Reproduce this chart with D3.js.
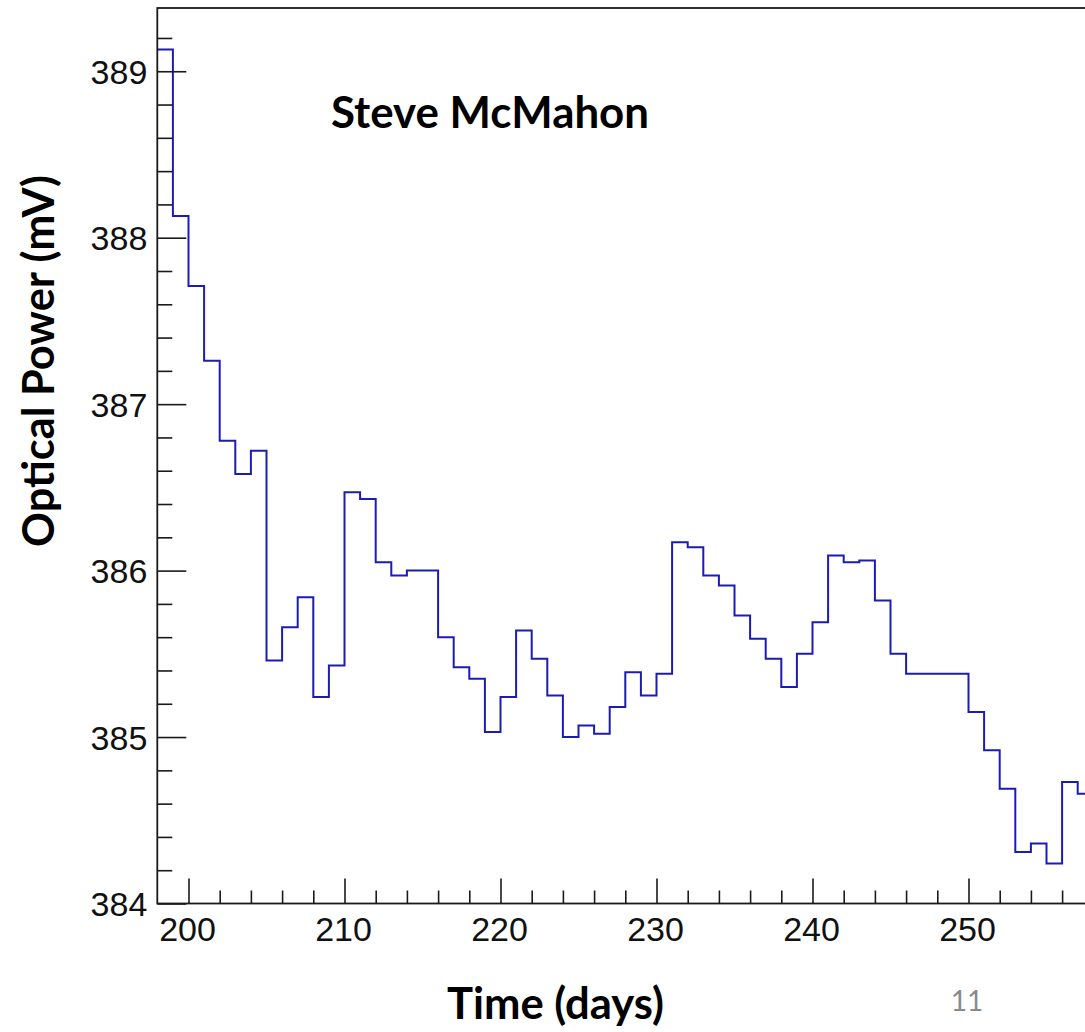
<!DOCTYPE html>
<html>
<head>
<meta charset="utf-8">
<script src="https://cdn.jsdelivr.net/npm/d3@7"></script>
<style>
  html, body { margin: 0; padding: 0; background: #fff; overflow: hidden; }
  svg { display: block; }
</style>
</head>
<body>
<svg id="chart" width="1085" height="1032"></svg>
<script>
// Daily bins (lower edge, days) and mean optical power per bin (mV)
const days = [198, 199, 200, 201, 202, 203, 204, 205, 206, 207,
              208, 209, 210, 211, 212, 213, 214, 215, 216, 217,
              218, 219, 220, 221, 222, 223, 224, 225, 226, 227,
              228, 229, 230, 231, 232, 233, 234, 235, 236, 237,
              238, 239, 240, 241, 242, 243, 244, 245, 246, 247,
              248, 249, 250, 251, 252, 253, 254, 255, 256, 257];
const power = [389.13, 388.13, 387.71, 387.26, 386.78, 386.58, 386.72, 385.46, 385.66, 385.84,
               385.24, 385.43, 386.47, 386.43, 386.05, 385.97, 386.00, 386.00, 385.60, 385.42,
               385.35, 385.03, 385.24, 385.64, 385.47, 385.25, 385.00, 385.07, 385.02, 385.18,
               385.39, 385.25, 385.38, 386.17, 386.14, 385.97, 385.91, 385.73, 385.59, 385.47,
               385.30, 385.50, 385.69, 386.09, 386.05, 386.06, 385.82, 385.50, 385.38, 385.38,
               385.38, 385.38, 385.15, 384.92, 384.69, 384.31, 384.36, 384.24, 384.73, 384.66];
const binWidth = 1;

const xTicks = [200, 210, 220, 230, 240, 250];
const yTicks = [384, 385, 386, 387, 388, 389];

const xTitle = "Time (days)";
const yTitle = "Optical Power (mV)";
const author = "Steve McMahon";
const pageNo = "11";

const svg = d3.select("#chart");

// Frame geometry
const frame = { left: 157.3, top: 8, bottom: 903.5, right: 1124.5 };

const x = d3.scaleLinear().domain([198, 260]).range([frame.left, frame.right]);
const y = d3.scaleLinear().domain([384, 389.38]).range([frame.bottom, frame.top]);

const axisColor = "#1a1a1a";
const lineColor = "#1c1cb4";

svg.append("defs").append("clipPath").attr("id", "frameClip")
  .append("rect")
  .attr("x", frame.left).attr("y", frame.top)
  .attr("width", frame.right - frame.left).attr("height", frame.bottom - frame.top);

// Histogram outline (step line)
const pts = days.map((d, i) => [d, power[i]]);
pts.push([days[days.length - 1] + binWidth, power[power.length - 1]]);

const step = d3.line()
  .x(d => x(d[0]))
  .y(d => y(d[1]))
  .curve(d3.curveStepAfter);

svg.append("path")
  .attr("clip-path", "url(#frameClip)")
  .attr("d", step(pts))
  .attr("fill", "none")
  .attr("stroke", lineColor)
  .attr("stroke-width", 2);

// Axes with inward ticks
const xMinor = d3.range(200, 261, 2).filter(v => v % 10 !== 0);
const yMinor = d3.range(0, 27).map(i => +(384 + i * 0.2).toFixed(1)).filter(v => Math.abs(v - Math.round(v)) > 1e-6);

const gx = svg.append("g").attr("transform", `translate(0,${frame.bottom})`);
gx.call(d3.axisBottom(x).tickValues(xMinor).tickSize(-13).tickFormat(""));
gx.call(g => g.select(".domain").remove());
const gxMaj = svg.append("g").attr("transform", `translate(0,${frame.bottom})`);
gxMaj.call(d3.axisBottom(x).tickValues(xTicks.concat([260])).tickSize(-25).tickPadding(0)
  .tickFormat(v => xTicks.includes(v) ? d3.format("d")(v) : ""));
gxMaj.call(g => g.select(".domain").remove());
gxMaj.selectAll(".tick text")
  .attr("y", 37)
  .attr("dy", 0)
  .attr("dx", -1.5)
  .attr("font-family", "'Liberation Sans', Arial, sans-serif")
  .attr("font-size", 34)
  .attr("fill", "#111");

const gy = svg.append("g").attr("transform", `translate(${frame.left},0)`);
gy.call(d3.axisLeft(y).tickValues(yMinor).tickSize(-15).tickFormat(""));
gy.call(g => g.select(".domain").remove());
const gyMaj = svg.append("g").attr("transform", `translate(${frame.left},0)`);
gyMaj.call(d3.axisLeft(y).tickValues(yTicks).tickSize(-29).tickPadding(0).tickFormat(d3.format("d")));
gyMaj.call(g => g.select(".domain").remove());
gyMaj.selectAll(".tick text")
  .attr("x", -10)
  .attr("dy", "0.36em")
  .attr("font-family", "'Liberation Sans', Arial, sans-serif")
  .attr("font-size", 34)
  .attr("fill", "#111");

svg.selectAll(".tick line").attr("stroke", axisColor).attr("stroke-width", 1.6);

// Frame
svg.append("rect")
  .attr("x", frame.left).attr("y", frame.top)
  .attr("width", frame.right - frame.left).attr("height", frame.bottom - frame.top)
  .attr("fill", "none")
  .attr("stroke", axisColor)
  .attr("stroke-width", 1.8);

// Text labels, sized to a target width
function fitText(sel, width) {
  let fs = parseFloat(sel.attr("font-size"));
  const w = sel.node().getComputedTextLength();
  if (w > 0) sel.attr("font-size", (fs * width / w).toFixed(2));
}

const titleFont = "Lato, 'Open Sans', 'Noto Sans', sans-serif";

const tAuthor = svg.append("text")
  .attr("x", 331).attr("y", 128)
  .attr("font-family", titleFont).attr("font-weight", 700)
  .attr("font-size", 40).attr("fill", "#000")
  .text(author);
fitText(tAuthor, 318);

const tX = svg.append("text")
  .attr("x", 447).attr("y", 1019)
  .attr("font-family", titleFont).attr("font-weight", 700)
  .attr("font-size", 40).attr("fill", "#000")
  .text(xTitle);
fitText(tX, 217);

const tY = svg.append("text")
  .attr("transform", "translate(54,361) rotate(-90)")
  .attr("text-anchor", "middle")
  .attr("font-family", titleFont).attr("font-weight", 700)
  .attr("font-size", 40).attr("fill", "#000")
  .text(yTitle);
fitText(tY, 372);

svg.append("text")
  .attr("x", 967).attr("y", 1011)
  .attr("text-anchor", "middle")
  .attr("font-family", titleFont)
  .attr("font-size", 28).attr("fill", "#8a8a8a")
  .text(pageNo);
</script>
</body>
</html>
